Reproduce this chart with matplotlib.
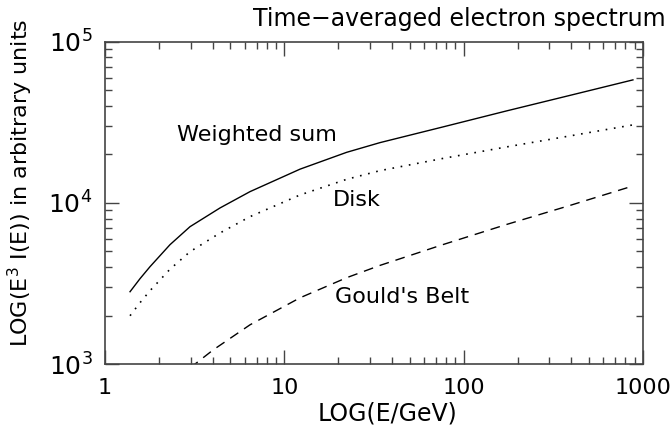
import numpy as np
import matplotlib
matplotlib.use("Agg")
import matplotlib.pyplot as plt
from matplotlib.ticker import LogLocator, FixedLocator, FixedFormatter, NullFormatter

# Spectrum samples: energy (GeV) and E^3 I(E) in arbitrary units
e_sum = [1.379, 1.567, 1.782, 2.304, 2.980, 4.379, 6.437, 12.24, 22.28, 34.20, 76.8, 173.9, 392.1, 880.8]
sum_vals = [2812, 3387, 4021, 5508, 7125, 9310, 11755, 16210, 20620, 23690, 29650, 37280, 46530, 58070]

e_disk = [1.379, 1.567, 1.782, 2.304, 2.980, 4.379, 6.437, 12.24, 22.28, 34.20, 76.8, 173.9, 392.1, 880.8]
disk_vals = [1995, 2403, 2853, 3880, 4983, 6512, 8220, 11210, 14020, 15870, 18900, 22280, 26070, 30520]

e_gould = [2.980, 4.003, 6.437, 12.24, 22.28, 34.20, 76.8, 173.9, 392.1, 880.8]
gould_vals = [946, 1222, 1752, 2578, 3436, 4097, 5516, 7355, 9650, 12750]

x_ticks = [1, 10, 100, 1000]
x_tick_labels = ["1", "10", "100", "1000"]
y_ticks = [1e3, 1e4, 1e5]
y_tick_labels = [r"$10^3$", r"$10^4$", r"$10^5$"]

plt.rcParams["font.family"] = ["DejaVu Sans"]
plt.rcParams["mathtext.fontset"] = "dejavusans"

fig = plt.figure(figsize=(6.71, 4.36), dpi=100)
ax = fig.add_axes([0.1565, 0.165, 0.8015, 0.739])

ax.plot(e_sum, sum_vals, color="black", lw=1.0, ls="-")
ax.plot(e_disk, disk_vals, color="black", lw=1.2, ls=(0, (1, 4)))
ax.plot(e_gould, gould_vals, color="black", lw=1.0, ls=(0, (7, 5)))

ax.set_xscale("log")
ax.set_yscale("log")
ax.set_xlim(1, 1000)
ax.set_ylim(1e3, 1e5)

ax.xaxis.set_major_locator(FixedLocator(x_ticks))
ax.xaxis.set_major_formatter(FixedFormatter(x_tick_labels))
ax.yaxis.set_major_locator(FixedLocator(y_ticks))
ax.yaxis.set_major_formatter(FixedFormatter(y_tick_labels))
ax.xaxis.set_minor_locator(LogLocator(base=10, subs=np.arange(2, 10)))
ax.yaxis.set_minor_locator(LogLocator(base=10, subs=np.arange(2, 10)))
ax.xaxis.set_minor_formatter(NullFormatter())
ax.yaxis.set_minor_formatter(NullFormatter())

ax.tick_params(which="both", direction="in", top=True, right=True,
               color="#444444", width=1.0)
ax.tick_params(axis="x", which="major", length=10, labelsize=16, pad=10)
ax.tick_params(axis="y", which="major", length=10, labelsize=18, pad=9)
ax.tick_params(which="minor", length=5)
for s in ax.spines.values():
    s.set_color("#444444")
    s.set_linewidth(1.2)

fig.text(0.578, 0.052, "LOG(E/GeV)", fontsize=17, ha="center", va="center")
fig.text(0.030, 0.580, r"LOG(E$^3$ I(E)) in arbitrary units", fontsize=16,
         ha="center", va="center", rotation=90)
fig.text(0.684, 0.957, "Time\u2212averaged electron spectrum", fontsize=17,
         ha="center", va="center")

ax.text(2.52, 2.64e4, "Weighted sum", fontsize=16, va="center", ha="left")
ax.text(18.7, 1.044e4, "Disk", fontsize=16, va="center", ha="left")
ax.text(19.2, 2.61e3, "Gould's Belt", fontsize=16, va="center", ha="left")

fig.savefig("out.png", dpi=100)
